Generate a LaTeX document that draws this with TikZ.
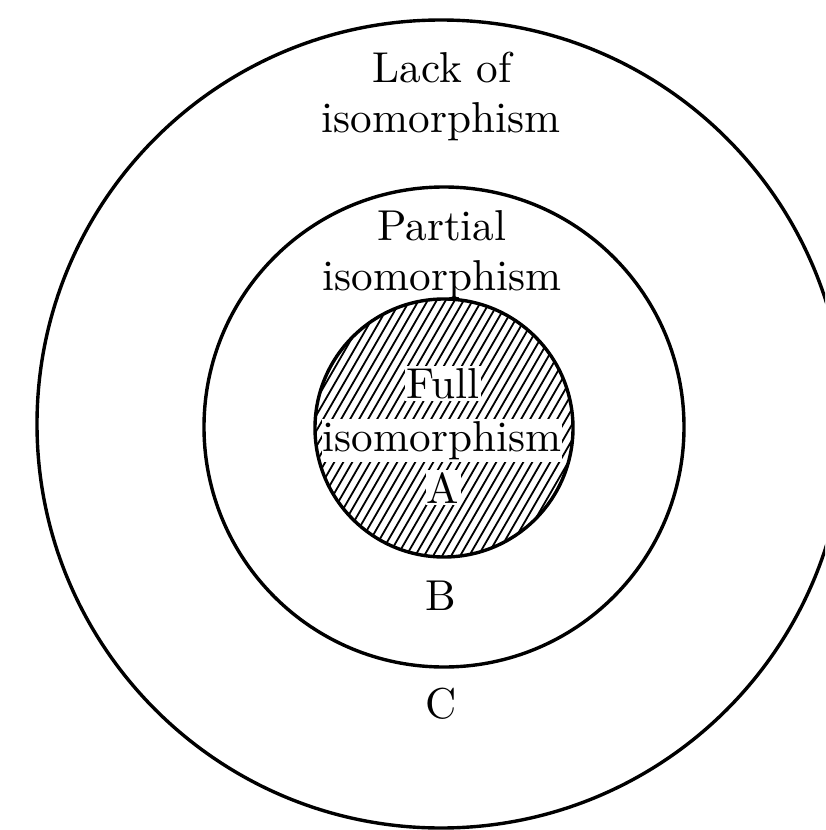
\documentclass[tikz,border=0pt]{standalone}
\begin{document}
\begin{tikzpicture}[x=0.5pt,y=-0.5pt,
  lbl/.style={font=\fontsize{10}{12}\selectfont, scale=2.16, inner sep=0pt, anchor=base},
  hlbl/.style={lbl, fill=white, inner xsep=0.3pt, inner ysep=0.5pt},
  ring/.style={draw, line width=1.7pt},
  hatchline/.style={line width=0.9pt}]
\useasboundingbox (0,0) rectangle (825,830);
% outer ring (runs past the right edge)
\begin{scope}
  \clip (0,0) rectangle (825,830);
  \draw[ring] (441,424) circle[radius=202pt];
\end{scope}
% middle ring
\draw[ring] (444,427) circle[radius=120pt];
% hatched inner disc
\begin{scope}
  \clip (444,428) circle[radius=64.5pt];
  \foreach \s in {-333,-324,...,333}
    \draw[hatchline] (444+\s-160,428+277) -- (444+\s+160,428-277);
\end{scope}
\draw[ring] (444,428) circle[radius=64.5pt];
% labels
\node[lbl] (lack1) at (442,82) {Lack of};
\node[lbl] (lack2) at (441,132) {isomorphism};
\node[lbl] (part1) at (442,240) {Partial};
\node[lbl] (part2) at (442,290) {isomorphism};
\node[hlbl] (full1) at (443,398) {Full};
\node[hlbl] (full2) at (442,451) {isomorphism};
\node[hlbl] (labA) at (443,503) {A};
\node[lbl] (labB) at (441,610) {B};
\node[lbl] (labC) at (441,718) {C};
\end{tikzpicture}
\end{document}
